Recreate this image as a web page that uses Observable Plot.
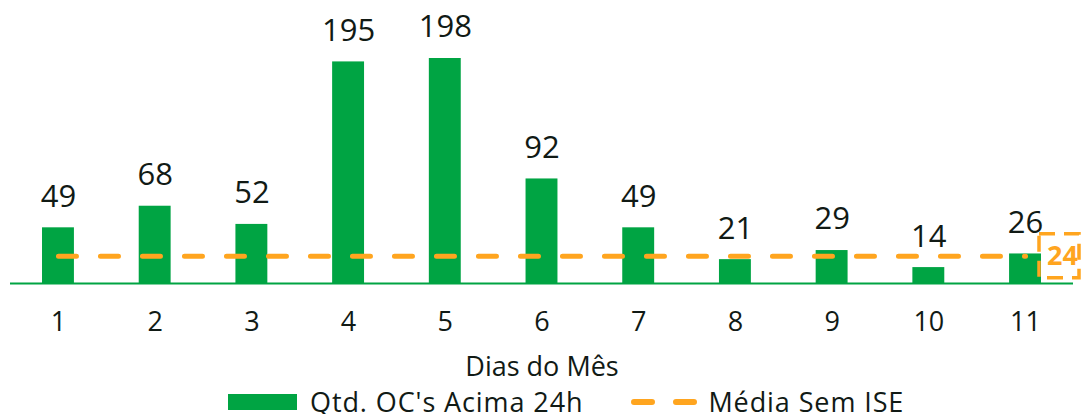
<!DOCTYPE html>
<html>
<head>
<meta charset="utf-8">
<script src="https://cdn.jsdelivr.net/npm/d3@7"></script>
<script src="https://cdn.jsdelivr.net/npm/@observablehq/plot@0.6"></script>
<style>
  html, body { margin: 0; padding: 0; background: #fff; overflow: hidden; }
  body { width: 1081px; height: 414px; font-family: "Open Sans", "Noto Sans", sans-serif; color: #111a15; }
  #chart svg { display: block; }
  #legend { position: relative; height: 28px; display: flex; align-items: center; padding-left: 228px; padding-top: 3px; box-sizing: border-box; font-size: 27px; line-height: 26px; letter-spacing: 0.9px; white-space: nowrap; }
  .sw { display: inline-block; width: 69px; height: 16px; background: #00a443; margin-right: 13px; }
  .dash { margin-left: 48px; margin-right: 10px; }
</style>
</head>
<body>
<div id="chart"></div>
<div id="legend">
  <span class="sw"></span><span>Qtd. OC's Acima 24h</span>
  <svg class="dash" width="67" height="10"><line x1="3" y1="5" x2="64" y2="5" stroke="#ffa51f" stroke-width="6" stroke-linecap="round" stroke-dasharray="18,24"></line></svg><span>Média Sem ISE</span>
</div>
<script>
const days = [1, 2, 3, 4, 5, 6, 7, 8, 9, 10, 11];
const values = [49, 68, 52, 195, 198, 92, 49, 21, 29, 14, 26];
const average = 24;
const xLabel = "Dias do Mês";

const GREEN = "#00a443";
const ORANGE = "#ffa51f";
const INK = "#111a15";

const data = days.map((d, i) => ({day: d, value: values[i]}));

function avgBox(index, scales, vals, dims) {
  const yy = scales.y(average);
  const right = dims.width - 2;
  const left = right - 40;
  const g = d3.create("svg:g");
  g.append("rect")
    .attr("x", left).attr("y", yy - 22)
    .attr("width", right - left).attr("height", 44)
    .attr("fill", "none")
    .attr("stroke", ORANGE)
    .attr("stroke-width", 3.5)
    .attr("stroke-dasharray", "16,9");
  return g.node();
}

const chart = Plot.plot({
  width: 1081,
  height: 386,
  marginLeft: 10,
  marginRight: 8,
  marginTop: 33,
  marginBottom: 103,
  style: {fontFamily: "'Open Sans', 'Noto Sans', sans-serif", color: INK, background: "#fff"},
  x: {type: "band", domain: days, paddingInner: 0.67, paddingOuter: 0.331, align: 0.5, round: false, label: null},
  y: {domain: [0, 220], axis: null},
  marks: [
    Plot.barY(data, {x: "day", y: "value", fill: GREEN}),
    Plot.ruleY([0], {stroke: GREEN, strokeWidth: 2}),
    Plot.line(data, {x: "day", y: () => average, stroke: ORANGE, strokeWidth: 5, strokeDasharray: "18,24", strokeLinecap: "round"}),
    Plot.text(data, {x: "day", y: "value", text: d => String(d.value), dy: -31, lineAnchor: "middle", fontSize: 31, fill: INK}),
    Plot.axisX({tickSize: 0, tickPadding: 0, dy: 39, lineAnchor: "middle", fontSize: 27, fill: INK, label: null}),
    Plot.text([xLabel], {frameAnchor: "bottom", dy: 84, lineAnchor: "middle", fontSize: 27, fill: INK, style: "letter-spacing: 0.9px"}),
    avgBox,
    Plot.text([average], {x: () => days[days.length - 1], y: d => d, text: d => String(d), dx: 37, lineAnchor: "middle", fontSize: 27, fontWeight: "bold", fill: ORANGE})
  ]
});
document.getElementById("chart").appendChild(chart);
</script>
</body>
</html>
